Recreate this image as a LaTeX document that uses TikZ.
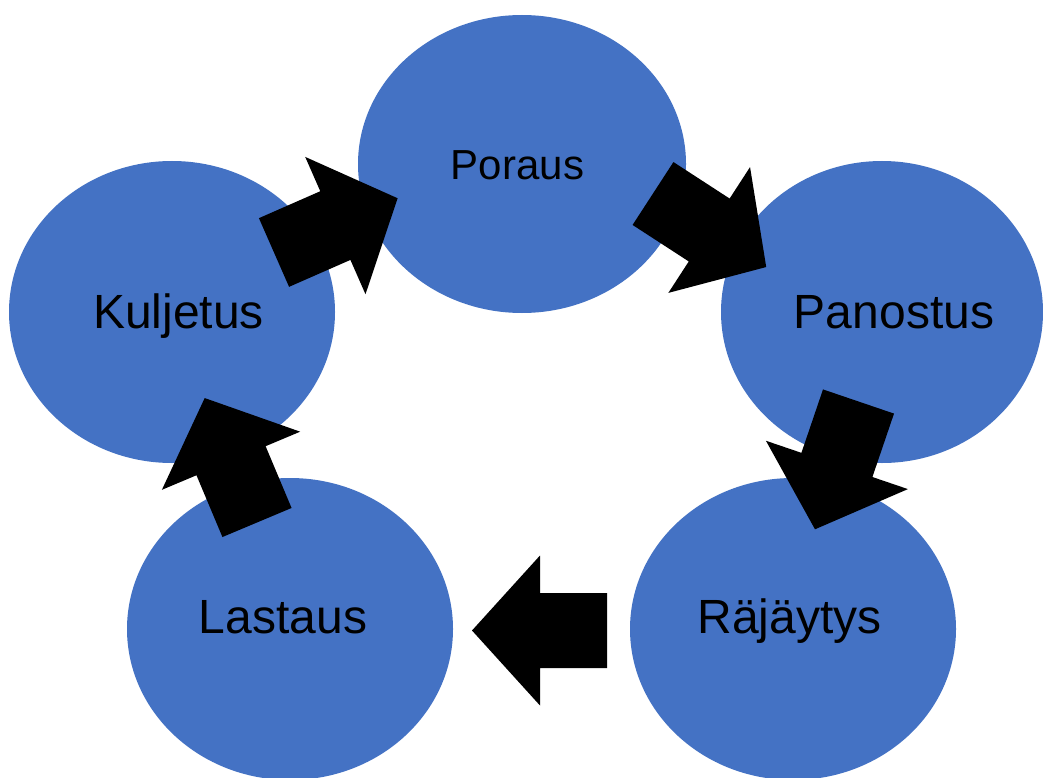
\documentclass[tikz,border=0pt]{standalone}
\usepackage{fontspec}
\setmainfont{Liberation Sans}
\usetikzlibrary{shapes.geometric,calc}
\definecolor{cblue}{HTML}{4472C4}
% #1 = name of tail-centre coordinate, #2 = direction angle (image coords)
\newcommand\blockarrow[2]{%
  \fill[black] ($(#1)+(#2+90:37.5)$)
    -- ($(#1)+(#2:67)+(#2+90:37.5)$)
    -- ($(#1)+(#2:67)+(#2+90:75)$)
    -- ($(#1)+(#2:135)$)
    -- ($(#1)+(#2:67)+(#2-90:75)$)
    -- ($(#1)+(#2:67)+(#2-90:37.5)$)
    -- ($(#1)+(#2-90:37.5)$) -- cycle;}
\begin{document}
\begin{tikzpicture}[x=1pt,y=-1pt,
  stage/.style={ellipse,fill=cblue,draw=none,inner sep=0pt,minimum width=326pt,minimum height=302pt},
  lbl/.style={anchor=base,inner sep=0pt,text=black,font=\fontsize{48}{48}\selectfont}]
\useasboundingbox (0,0) rectangle (1043,778);
\fill[white] (0,0) rectangle (1043,778);
% stages
\node[stage,minimum width=328pt,minimum height=298pt] (poraus) at (522,164) {};
\node[stage,minimum width=322pt] (panostus) at (882,312) {};
\node[stage] (rajaytys) at (793,629) {};
\node[stage] (lastaus) at (290,629) {};
\node[stage] (kuljetus) at (172,312) {};
% labels
\node[lbl,font=\fontsize{42}{42}\selectfont] (tporaus) at (517.5,179) {Poraus};
\node[lbl] (tpanostus) at (894,328) {Panostus};
\node[lbl] (trajaytys) at (789.5,633) {Räjäytys};
\node[lbl] (tlastaus) at (283,633) {Lastaus};
\node[lbl] (tkuljetus) at (178.5,328) {Kuljetus};
% block arrows (tail centres)
\coordinate (a1) at (274,252.5);
\coordinate (a2) at (653,193.5);
\coordinate (a3) at (858.5,401.5);
\coordinate (a4) at (607,630.5);
\coordinate (a5) at (257,522.5);
\blockarrow{a1}{-23.7}
\blockarrow{a2}{33}
\blockarrow{a3}{108.8}
\blockarrow{a4}{180}
\blockarrow{a5}{-112.8}
\end{tikzpicture}
\end{document}
